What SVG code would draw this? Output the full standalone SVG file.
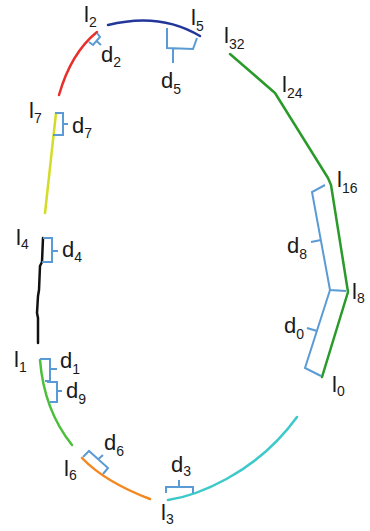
<svg xmlns="http://www.w3.org/2000/svg" width="370" height="531" viewBox="0 0 370 531">
<style>
.seg{fill:none;stroke-width:2.5;stroke-linecap:round;stroke-linejoin:round}
.br{fill:none;stroke:#5b9bd5;stroke-width:2;stroke-linejoin:miter}
text{font-family:"Liberation Sans",Arial,sans-serif;font-size:22px;fill:#1a1a1a}
.s{font-size:14px}
</style>
<rect width="370" height="531" fill="#fff"/>
<g id="connectors">
<path id="seg-red" class="seg" stroke="#e8302a" d="M97,32 Q71,53 59,95"/>
<path id="seg-blue" class="seg" stroke="#23379b" d="M108,25 Q160,12 200,36"/>
<path id="seg-yellow" class="seg" stroke="#d4dc28" d="M56,113 L45,213"/>
<path id="seg-black" class="seg" stroke="#111" stroke-width="2.2" d="M43,238 L42,262 L40,266 L39,290 L38,296 L37,313 L38,318 L38,343"/>
<path id="seg-lgreen" class="seg" stroke="#4cbf3a" d="M40,360 Q44,410 72,445"/>
<path id="seg-orange" class="seg" stroke="#f5871f" d="M82,458 Q105,482 150,499"/>
<path id="seg-cyan" class="seg" stroke="#3dc9c9" d="M168,500 C195,496 255,475 297,417"/>
<path id="seg-dgreen" class="seg" stroke="#2a9a2a" d="M230,54 L252,73 L275,93 L328,178 L331,185 L348,292 L322,377"/>
</g>
<g id="brackets">
<path class="br" d="M97,33 L100,37 L93,45 L89,42 M96.5,41 L101,45"/>
<path class="br" d="M167,28 L167,48 L193,49 L197,38 M173,48 L173,63"/>
<path class="br" d="M55,113 L63,113 L63,135 L53,135 M63,124 L68,124"/>
<path class="br" d="M43,238 L52,238 L52,262 L42,262 M52,251 L58,251"/>
<path class="br" d="M40,359 L50,359 L50,381 L45,381 M50,369 L57,369"/>
<path class="br" d="M47,382 L57,382 L57,402 L50,402 M57,391 L62,391"/>
<path class="br" d="M83,457 L89,451 L108,468 L103,474 M98,459.5 L103,455"/>
<path class="br" d="M166,493 L166,487 L193,487 L193,493 M179,487 L179,480"/>
<path class="br" d="M325,185 L312,192 L330,290 L346,291 M321,240 L311,242"/>
<path class="br" d="M330,290 L305,368 L321,376 M317,331 L307,328"/>
</g>
<g id="labels-l">
<g id="l2"><text x="84" y="22">l<tspan class="s" dy="5">2</tspan></text></g>
<g id="l5"><text x="191" y="25">l<tspan class="s" dy="6">5</tspan></text></g>
<g id="l32"><text x="224" y="43">l<tspan class="s" dy="6">32</tspan></text></g>
<g id="l24"><text x="282" y="92">l<tspan class="s" dy="6">24</tspan></text></g>
<g id="l16"><text x="337" y="187">l<tspan class="s" dy="6">16</tspan></text></g>
<g id="l8"><text x="352" y="299">l<tspan class="s" dy="4">8</tspan></text></g>
<g id="l0"><text x="332" y="392">l<tspan class="s" dy="4">0</tspan></text></g>
<g id="l7"><text x="29" y="118">l<tspan class="s" dy="5">7</tspan></text></g>
<g id="l4"><text x="16" y="245">l<tspan class="s" dy="4">4</tspan></text></g>
<g id="l1"><text x="14" y="367">l<tspan class="s" dy="5">1</tspan></text></g>
<g id="l6"><text x="64" y="476">l<tspan class="s" dy="4">6</tspan></text></g>
<g id="l3"><text x="161" y="520">l<tspan class="s" dy="4">3</tspan></text></g>
</g>
<g id="labels-d">
<g id="d2"><text x="101" y="62">d<tspan class="s" dy="5">2</tspan></text></g>
<g id="d5"><text x="161" y="88">d<tspan class="s" dy="6">5</tspan></text></g>
<g id="d7"><text x="72" y="133">d<tspan class="s" dy="5">7</tspan></text></g>
<g id="d4"><text x="62" y="257">d<tspan class="s" dy="5">4</tspan></text></g>
<g id="d1"><text x="60" y="368">d<tspan class="s" dy="6">1</tspan></text></g>
<g id="d9"><text x="66" y="398">d<tspan class="s" dy="6">9</tspan></text></g>
<g id="d6"><text x="104" y="450">d<tspan class="s" dy="6">6</tspan></text></g>
<g id="d3"><text x="171" y="472">d<tspan class="s" dy="4">3</tspan></text></g>
<g id="d8"><text x="287" y="253">d<tspan class="s" dy="6">8</tspan></text></g>
<g id="d0"><text x="284" y="333">d<tspan class="s" dy="6">0</tspan></text></g>
</g>
</svg>
